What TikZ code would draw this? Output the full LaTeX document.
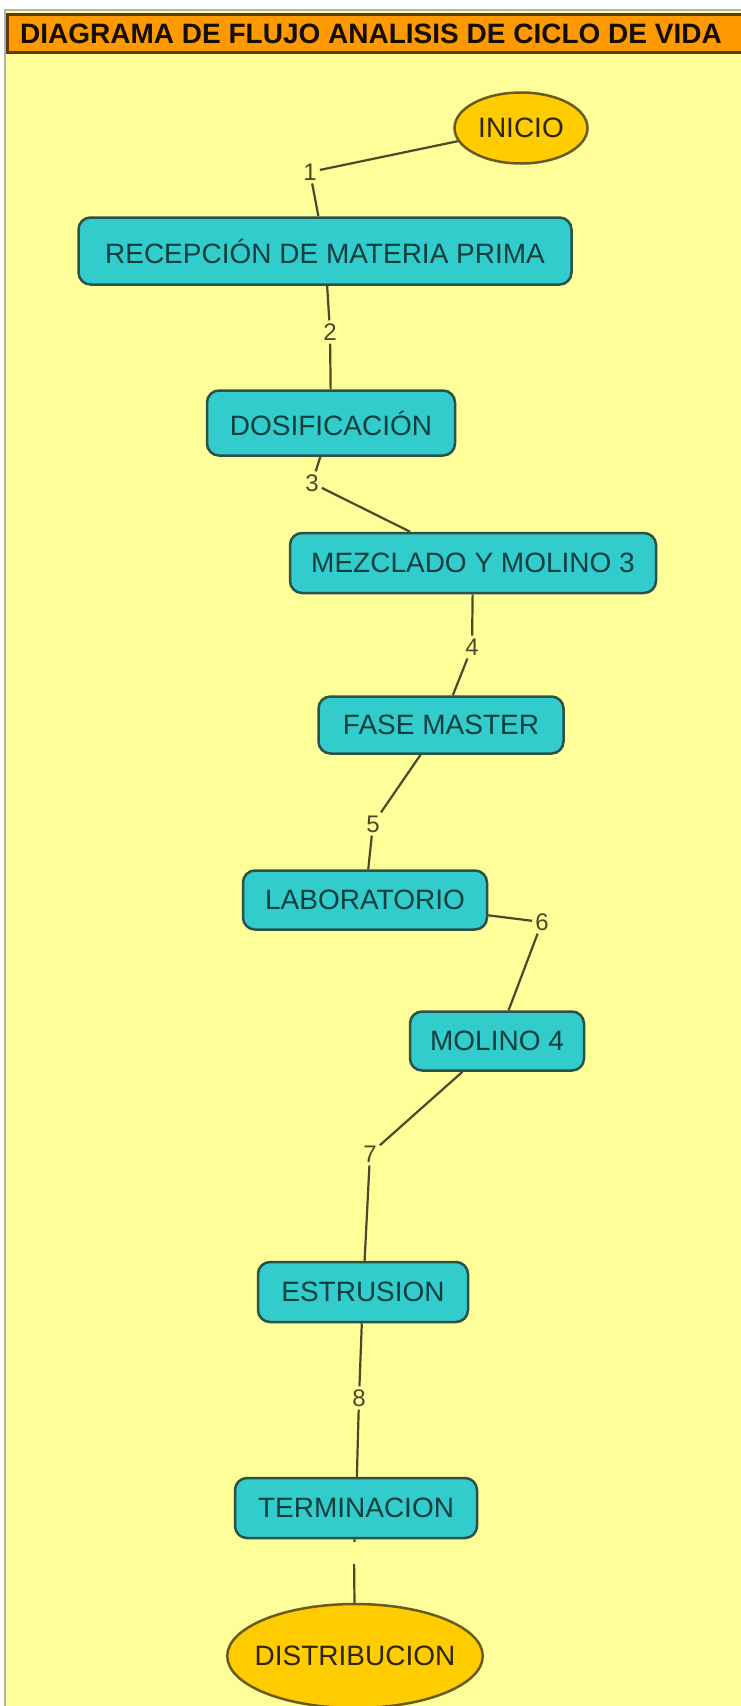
\documentclass[tikz,border=0pt]{standalone}
\usepackage{fontspec}
\setmainfont{Liberation Sans}
\usetikzlibrary{shapes.geometric}

\definecolor{fondo}{HTML}{FFFF99}
\definecolor{naranja}{HTML}{FF9900}
\definecolor{bordetitulo}{HTML}{5C3A0A}
\definecolor{tealcaja}{HTML}{33CCCC}
\definecolor{bordecaja}{HTML}{2B5148}
\definecolor{textocaja}{HTML}{0E3E3E}
\definecolor{oro}{HTML}{FFCC00}
\definecolor{bordeovalo}{HTML}{6B5A1E}
\definecolor{textoovalo}{HTML}{2E2408}
\definecolor{linea}{HTML}{4A4A2A}

\tikzset{
  caja/.style={draw=bordecaja, fill=tealcaja, rounded corners=12pt, line width=2.5pt,
    text=textocaja, font=\fontsize{28}{30}\selectfont, inner sep=0pt},
  ovalo/.style={ellipse, draw=bordeovalo, fill=oro, line width=2.5pt,
    text=textoovalo, font=\fontsize{28}{30}\selectfont, inner sep=0pt},
  num/.style={font=\fontsize{24}{26}\selectfont, text=linea, inner sep=3pt},
  conector/.style={draw=linea, line width=2.2pt}
}

\begin{document}
\begin{tikzpicture}[x=1pt, y=-1pt]
  \useasboundingbox (0,0) rectangle (741,1706);
  \fill[white] (0,0) rectangle (741,1706);
  \draw[fill=fondo, draw=gray!60, line width=1.5pt] (5,10) rectangle (745,1710);

  % titulo
  \draw[fill=naranja, draw=bordetitulo, line width=3pt] (7,14) rectangle (748,52);
  \node[font=\fontsize{28}{30}\selectfont\bfseries, text=black!90!brown] (titulo) at (371,34)
    {DIAGRAMA DE FLUJO ANALISIS DE CICLO DE VIDA};

  % pasos
  \node[ovalo, minimum width=133pt, minimum height=71pt] (inicio) at (521,128) {INICIO};
  \node[caja, minimum width=493pt, minimum height=67pt] (recepcion) at (325,251) {RECEPCIÓN DE MATERIA PRIMA};
  \node[caja, minimum width=248pt, minimum height=65pt] (dosificacion) at (331,423) {DOSIFICACIÓN};
  \node[caja, minimum width=366pt, minimum height=60pt] (mezclado) at (473,563) {MEZCLADO Y MOLINO 3};
  \node[caja, minimum width=245pt, minimum height=57pt] (master) at (441,725) {FASE MASTER};
  \node[caja, minimum width=244pt, minimum height=59pt] (laboratorio) at (365,900) {LABORATORIO};
  \node[caja, minimum width=174pt, minimum height=59pt] (molino) at (497,1041) {MOLINO 4};
  \node[caja, minimum width=210pt, minimum height=60pt] (estrusion) at (363,1292) {ESTRUSION};
  \node[caja, minimum width=242pt, minimum height=60pt] (terminacion) at (356,1508) {TERMINACION};
  \node[ovalo, inner xsep=-10pt, minimum width=254pt, minimum height=104pt] (distribucion) at (355,1656) {DISTRIBUCION};

  % numeros de los enlaces
  \node[num] (n1) at (310,172) {1};
  \node[num] (n2) at (330,332) {2};
  \node[num] (n3) at (312,483) {3};
  \node[num] (n4) at (472,647) {4};
  \node[num] (n5) at (373,824) {5};
  \node[num] (n6) at (542,922) {6};
  \node[num] (n7) at (370,1154) {7};
  \node[num] (n8) at (359,1398) {8};
  \node[inner sep=0pt, minimum size=22pt] (n9) at (354,1553) {};

  % enlaces
  \draw[conector] (inicio) -- (n1);
  \draw[conector] (n1) -- (recepcion);
  \draw[conector] (recepcion) -- (n2);
  \draw[conector] (n2) -- (dosificacion);
  \draw[conector] (dosificacion) -- (n3);
  \draw[conector] (n3) -- (mezclado);
  \draw[conector] (mezclado) -- (n4);
  \draw[conector] (n4) -- (master);
  \draw[conector] (master) -- (n5);
  \draw[conector] (n5) -- (laboratorio);
  \draw[conector] (laboratorio) -- (n6);
  \draw[conector] (n6) -- (molino);
  \draw[conector] (molino) -- (n7);
  \draw[conector] (n7) -- (estrusion);
  \draw[conector] (estrusion) -- (n8);
  \draw[conector] (n8) -- (terminacion);
  \draw[conector] (terminacion) -- (n9);
  \draw[conector] (n9) -- (distribucion);
\end{tikzpicture}
\end{document}
